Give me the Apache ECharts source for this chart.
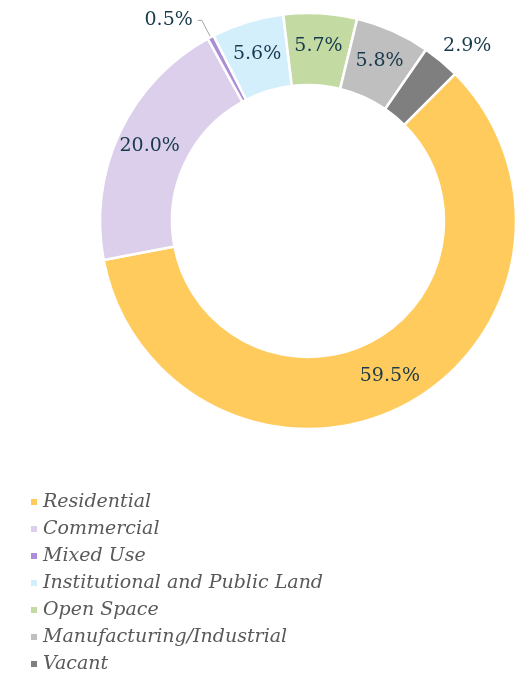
<!DOCTYPE html>
<html>
<head>
<meta charset="utf-8">
<style>
  html, body { margin: 0; padding: 0; background: #ffffff; }
  #chart { width: 530px; height: 675px; }
</style>
<script src="https://cdn.jsdelivr.net/npm/echarts@6/dist/echarts.min.js"></script>
</head>
<body>
<div id="chart"></div>
<script>
// Land use shares (%)
const categories = [
  'Residential',
  'Commercial',
  'Mixed Use',
  'Institutional and Public Land',
  'Open Space',
  'Manufacturing/Industrial',
  'Vacant'
];
const shares = [59.5, 20.0, 0.5, 5.6, 5.7, 5.8, 2.9];
const colors = ['#FFCB5C', '#DBCFEB', '#AA8ED6', '#D3EFFC', '#C3DBA3', '#BFBFBF', '#7F7F7F'];

const labelFont = 'DejaVu Serif';
const labelColor = '#17394B';

// Small slices get their labels outside the ring
const outsideLabels = {
  'Mixed Use': { length: 19, length2: 4, showLine: true, dx: 0, dy: 0 },
  'Vacant': { length: 14, length2: 0, showLine: false, dx: -12, dy: -4 }
};

const data = categories.map((name, i) => {
  const item = { name: name, value: shares[i], itemStyle: { color: colors[i] } };
  const o = outsideLabels[name];
  if (o) {
    item.label = { position: 'outside' };
    item.labelLine = {
      show: o.showLine, length: o.length, length2: o.length2,
      lineStyle: { color: '#A6A6A6', width: 1 }
    };
  }
  return item;
});

const chart = echarts.init(document.getElementById('chart'), null, { renderer: 'canvas' });
chart.setOption({
  backgroundColor: '#ffffff',
  animation: false,
  legend: {
    orient: 'vertical',
    left: 24,
    top: 487,
    height: 190,
    itemWidth: 8,
    itemHeight: 8,
    itemGap: 7,
    icon: 'rect',
    data: categories,
    textStyle: {
      fontFamily: labelFont,
      fontStyle: 'italic',
      fontSize: 19,
      lineHeight: 20,
      color: '#595959'
    }
  },
  series: [{
    type: 'pie',
    center: [308, 221],
    radius: [136, 208],
    startAngle: 45,
    clockwise: true,
    avoidLabelOverlap: false,
    itemStyle: { borderColor: '#ffffff', borderWidth: 2.5 },
    label: {
      show: true,
      position: 'inside',
      formatter: (p) => p.value.toFixed(1) + '%',
      fontFamily: labelFont,
      fontSize: 19,
      color: labelColor
    },
    labelLayout: (params) => {
      const o = outsideLabels[categories[params.dataIndex]];
      return o ? { dx: o.dx, dy: o.dy } : {};
    },
    emphasis: { disabled: true },
    data: data
  }]
});
</script>
</body>
</html>
